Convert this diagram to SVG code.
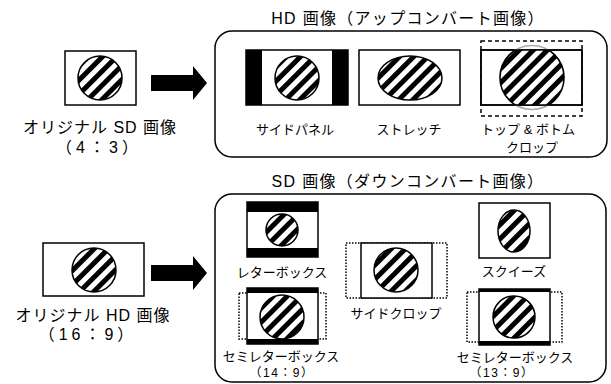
<svg xmlns="http://www.w3.org/2000/svg" width="611" height="384" viewBox="0 0 611 384">
<style>
text{font-family:"Liberation Sans","Noto Sans CJK JP",sans-serif;fill:#000;text-anchor:middle}
.t{font-size:16px;letter-spacing:1.3px}
.o{font-size:16px;letter-spacing:1px}
.or{font-size:16px;letter-spacing:4px}
.l{font-size:13px}
.r{font-size:12px;letter-spacing:1.5px}
.frame{fill:none;stroke:#000;stroke-width:1.5}
.pic{fill:#fff;stroke:#000;stroke-width:1.5}
.bar{fill:#000}
.ball{fill:url(#st);stroke:#000;stroke-width:1.5}
.dash{fill:none;stroke:#000;stroke-width:1.5;stroke-dasharray:4 3}
.dot{fill:none;stroke:#000;stroke-width:1.5;stroke-dasharray:1.5 1.5}
.arrow{fill:#000}
</style>
<defs>
<pattern id="st" patternUnits="userSpaceOnUse" width="10" height="10" patternTransform="rotate(45)">
<rect width="10" height="10" fill="#fff"/>
<rect width="5" height="10" fill="#000"/>
</pattern>
<clipPath id="tbclip"><rect x="481" y="50" width="101" height="55"/></clipPath>
</defs>

<g id="title-hd"><text class="t" x="408" y="24">HD 画像（アップコンバート画像）</text></g>
<g id="title-sd"><text class="t" x="408" y="187">SD 画像（ダウンコンバート画像）</text></g>

<g id="box-up"><rect class="frame" x="215" y="31" width="392" height="126" rx="17"/></g>
<g id="box-down"><rect class="frame" x="215" y="194" width="391" height="188" rx="17"/></g>

<g id="orig-sd">
<rect class="pic" x="65" y="51" width="71" height="54"/>
<circle class="ball" cx="100" cy="78" r="22"/>
<text class="o" x="100" y="133">オリジナル SD 画像</text>
<text class="or" x="99" y="153">（4：3）</text>
</g>

<g id="orig-hd">
<rect class="pic" x="43" y="243" width="101" height="53"/>
<circle class="ball" cx="94" cy="270" r="22"/>
<text class="o" x="93" y="321">オリジナル HD 画像</text>
<text class="or" x="88" y="340">（16：9）</text>
</g>

<g id="connectors">
<polygon class="arrow" points="151,75 193,75 193,66 207,83 193,100 193,91 151,91"/>
<polygon class="arrow" points="151,265 193,265 193,256 207,273 193,290 193,281 151,281"/>
</g>

<g id="side-panel">
<rect class="pic" x="246" y="50" width="102" height="55"/>
<rect class="bar" x="246" y="50" width="16" height="55"/>
<rect class="bar" x="332" y="50" width="16" height="55"/>
<circle class="ball" cx="297" cy="78" r="22"/>
<text class="l" x="295" y="134">サイドパネル</text>
</g>

<g id="stretch">
<rect class="pic" x="359" y="50" width="101" height="55"/>
<ellipse class="ball" cx="410" cy="78" rx="32" ry="22"/>
<text class="l" x="409" y="134">ストレッチ</text>
</g>

<g id="top-bottom-crop">
<rect class="dash" x="481" y="41" width="101" height="75"/>
<rect class="pic" x="481" y="50" width="101" height="55"/>
<circle cx="532" cy="77.5" r="32" fill="none" stroke="#aaa" stroke-width="1.5"/>
<circle class="ball" cx="532" cy="77.5" r="32" clip-path="url(#tbclip)"/>
<rect class="frame" x="481" y="50" width="101" height="55"/>
<text class="l" x="528" y="134">トップ &amp; ボトム</text>
<text class="l" x="532" y="152">クロップ</text>
</g>

<g id="letterbox">
<rect class="pic" x="247" y="202" width="71" height="55"/>
<rect class="bar" x="247" y="202" width="71" height="10"/>
<rect class="bar" x="247" y="248" width="71" height="9"/>
<circle class="ball" cx="282" cy="230" r="16"/>
<text class="l" x="282" y="277">レターボックス</text>
</g>

<g id="semi-14-9">
<rect class="dot" x="239" y="293" width="87" height="46"/>
<rect class="pic" x="247" y="288" width="71" height="56"/>
<rect class="bar" x="247" y="288" width="71" height="5"/>
<rect class="bar" x="247" y="339" width="71" height="5"/>
<circle class="ball" cx="282" cy="317" r="22"/>
<text class="l" x="281" y="361">セミレターボックス</text>
<text class="r" x="282" y="377">（14：9）</text>
</g>

<g id="side-crop">
<rect class="dot" x="346" y="243" width="101" height="55"/>
<rect class="pic" x="361" y="243" width="71" height="55"/>
<circle class="ball" cx="396" cy="270" r="22"/>
<text class="l" x="396" y="318">サイドクロップ</text>
</g>

<g id="squeeze">
<rect class="pic" x="479" y="203" width="71" height="55"/>
<ellipse class="ball" cx="514" cy="231" rx="16" ry="21"/>
<text class="l" x="514" y="276">スクイーズ</text>
</g>

<g id="semi-13-9">
<rect class="dot" x="467" y="292" width="95" height="50"/>
<rect class="pic" x="479" y="289" width="71" height="56"/>
<rect class="bar" x="479" y="289" width="71" height="3"/>
<rect class="bar" x="479" y="341" width="71" height="4"/>
<circle class="ball" cx="514" cy="317" r="21"/>
<text class="l" x="515" y="362">セミレターボックス</text>
<text class="r" x="502" y="377">（13：9）</text>
</g>
</svg>
